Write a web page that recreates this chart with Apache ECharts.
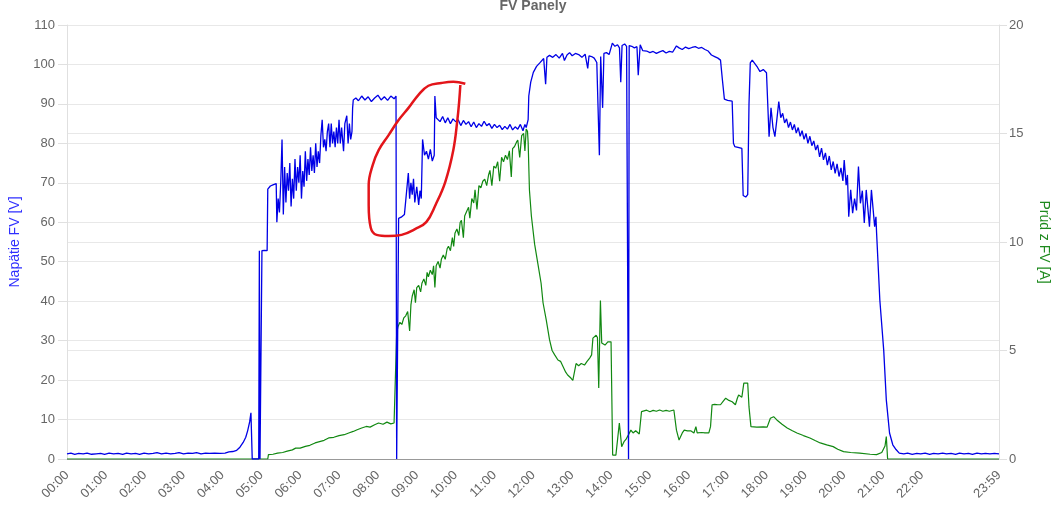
<!DOCTYPE html>
<html><head><meta charset="utf-8">
<script src="https://cdn.jsdelivr.net/npm/echarts@6/dist/echarts.min.js"></script>
<style>html,body{margin:0;padding:0;background:#fff;}#c{width:1059px;height:516px;}</style>
</head><body><div id="c"></div>
<script>
// x values are minutes after midnight
const tickMinutes = [0,60,120,180,240,300,360,420,480,540,600,660,720,780,840,900,960,1020,1080,1140,1200,1260,1320,1439];

const voltage = [
[0,1.3],[6,1.5],[12,1.2],[18,1.4],[25,1.3],[31,1.5],[38,1.2],[45,1.3],[52,1.4],[58,1.2],[65,1.5],[72,1.3],[79,1.4],[86,1.2],[92,1.5],[99,1.3],[106,1.4],[112,1.2],[119,1.5],[126,1.3],[133,1.4],[139,1.6],[146,1.3],[153,1.5],[160,1.3],[167,1.4],[173,1.6],[180,1.3],[187,1.5],[194,1.4],[200,1.6],[207,1.3],[214,1.5],[220,1.4],[228,1.5],[236,1.4],[244,1.5],[250,1.8],[256,1.9],[262,2.2],[267,3.0],[272,4.2],[276,5.5],[279,7.2],[282,9.4],[284,11.7],[286,0],
[296,0],[297,52.8],[298,0],[300,0],[301,52.8],[305,52.9],[309,52.8],[310,68.4],[314,69.2],[318,69.5],[323,69.8],
[324,60],[326,66],[328,62.5],[330,70],[332,81],[334,62],[336,74],[338,65],[340,72.5],[342,68],[344,75],[346,64],[348,71],[350,66],[352,76],[354,68],[356,74],[358,70],[360,77],[362,66],[364,73],[366,69],[368,78],[370,70.5],[372,76],[374,72],[376,79],[378,73],[380,77],[382,72.5],[384,80],[386,74],[388,78],[390,75],[392,82],[394,86],[396,79],[398,81],[400,78],[402,83],[404,85],[406,79],[408,85],[410,80],[412,83],[414,79],[416,84],[418,80],[420,86],[422,80],[424,84],[427,78],[429,85],[432,87],[434,80],[436,85],[438,81],[440,83],
[441,89],[442,91],[446,91.5],[450,90.8],[455,92],[460,91],[465,91.8],[470,90.6],[475,91.5],[480,92.2],[485,91],[490,91.8],[495,90.9],[500,92],[505,91.3],[508,92],
[509,0],[511,0],[512,61],[516,61.3],[521,62],[524,62.2],[527,72.5],[529,66],[531,70],[533,67],[535,71],[537,65],[540,69],[543,64.4],[545,68],[547,66],
[549,81],[552,77],[555,78],[558,76],[561,78.5],[564,75.5],[567,77],[568,92],[570,86.5],
[573,87],[576,85.5],[580,86.8],[584,85.2],[588,86.5],[592,85],[596,86.2],[600,85.5],[604,86],[608,84.5],[612,85.8],[616,84.8],[620,85.5],[624,84.2],[628,85.4],[632,84],[636,85],[640,84.3],[644,85.6],[648,84.5],[652,85],[656,83.8],[660,84.8],[664,84],[668,84.6],[672,83.5],[676,84.3],[680,83.6],[684,84.8],[688,83.4],[692,84.2],[696,83.6],[700,84.8],[704,83.2],[707,84.8],[709,84],
[712,86],[713,92],[716,95.5],[720,98],[725,99.5],[730,100.4],[736,101.5],[739,95],[741,101.8],[745,102.3],[750,101.8],[755,102.5],[760,101.6],[765,102.8],[768,101],[772,102.4],[776,103],[780,102.2],[785,102.8],[790,102.5],[795,101.8],[800,102.6],[804,99],[806,102.2],[810,102],[814,101.6],[818,100.5],[822,77],[824,102],[826,102.4],[827,89],[829,102.8],[833,103],[837,102.5],[840,103],[842,105.4],[846,104.6],[850,105],[853,104.2],[855,95.5],[857,104.8],[861,105.2],[864,104.6],[866,105],[867,0],[868,104.8],[872,104.6],[876,104.2],[880,104.5],[882,97.3],[885,105],[889,103.5],
[895,103.4],[900,103],[905,103.3],[910,102.8],[915,103.2],[920,103.5],[925,102.9],[930,103.3],[935,103.1],[941,104.7],[945,104.2],[950,103.8],[955,104.4],[960,104],[965,104.3],[970,104.5],[975,104.1],[980,104.3],[985,103.8],[990,103.4],[995,102.4],[1000,102],[1005,101.6],[1009,101.1],[1012,96],[1015,91.2],[1020,90.9],[1027,90.7],[1029,80],[1031,79.2],[1036,79],[1042,78.7],[1044,66.8],[1048,66.4],[1051,67],[1053,90],[1055,100.4],[1058,101.1],[1062,100.2],[1066,99.3],[1070,98.2],[1075,98.7],[1080,97.9],[1082,97.5],
[1084,81.7],[1087,89],[1090,84],[1093,81.7],[1096,86],[1099,90.6],[1102,86.5],[1105,87.6],[1108,85.2],[1111,86.2],[1114,84],[1117,85.4],[1120,83.4],[1123,84.8],[1126,82.6],[1129,84],[1132,81.8],[1135,83.2],[1138,81],[1141,82.5],[1144,80],[1147,81.8],[1150,79.4],[1153,80.6],[1156,78.3],[1159,79.6],[1162,76.6],[1165,78.8],[1168,75.8],[1171,77.6],[1174,74.5],[1177,76.8],[1180,73.3],[1183,75.4],[1186,72.4],[1189,74.8],[1192,71.6],[1195,73.8],[1198,70.5],[1200,75.8],[1203,69.4],[1205,72],[1207,61.4],[1210,68.2],[1213,62.3],[1216,66],[1219,63],[1222,74.1],[1225,64.8],[1228,68],[1231,59.8],[1234,68.2],[1237,68],[1239,58.9],[1242,68.2],[1245,68],[1247,58.9],[1249,61.4],[1250,57.3],[1255,40.3],[1261,27.6],[1265,15],[1270,6.6],[1275,3.6],[1280,2.4],[1285,1.5],
[1292,1.3],[1298,1.5],[1305,1.2],[1312,1.4],[1318,1.3],[1325,1.5],[1332,1.2],[1338,1.4],[1345,1.3],[1352,1.5],[1358,1.3],[1365,1.4],[1372,1.2],[1378,1.5],[1385,1.3],[1392,1.4],[1398,1.2],[1405,1.5],[1412,1.3],[1418,1.4],[1425,1.3],[1432,1.4],[1439,1.3]
];

const current = [
[0,0],[310,0],[311,0.2],[318,0.22],[325,0.27],[333,0.3],[340,0.36],[348,0.42],[353,0.5],[360,0.5],[368,0.58],[375,0.63],[383,0.74],[390,0.8],[397,0.86],[404,0.97],[412,1.0],[420,1.08],[428,1.12],[435,1.2],[442,1.27],[448,1.35],[455,1.43],[462,1.5],[468,1.47],[475,1.58],[481,1.66],[488,1.6],[494,1.7],[500,1.62],[505,1.66],[508,1.7],
[509,5.8],[511,6.1],[514,6.3],[517,6.2],[520,6.5],[523,6.6],[526,6.8],[529,5.9],[531,7.1],[533,7.5],[536,7.8],[538,7.2],[540,7.9],[543,8.0],[546,7.7],[548,8.1],[551,8.3],[554,8.0],[556,8.6],[558,8.4],[561,8.7],[564,8.5],[566,8.9],[568,7.9],[570,8.9],[573,9.1],[576,8.8],[578,9.2],[581,9.4],[584,9.2],[587,9.7],[589,9.8],[592,9.6],[595,10.2],[597,9.8],[599,10.4],[602,10.6],[605,10.3],[607,10.9],[609,11],[612,10.2],[614,11.2],[617,11.4],[620,11.6],[622,11.1],[625,12.0],[628,11.8],[630,12.4],[633,11.5],[636,12.6],[639,12.5],[642,12.8],[645,12.9],[648,12.6],[651,13.1],[653,13.3],[656,12.6],[659,13.5],[662,13.4],[665,13.7],[668,12.8],[671,13.9],[674,13.7],[677,14.0],[680,13.8],[683,14.2],[686,13.0],[688,14.3],[691,14.4],[694,14.6],[696,14.7],[699,13.9],[702,14.9],[705,15.0],[707,14.2],[709,15.2],[711,15.1],
[712,14.6],[714,12.4],[717,11.2],[722,9.9],[727,9.0],[732,8.1],[735,7.2],[740,6.4],[745,5.5],[749,5.0],[753,4.8],[758,4.56],[762,4.5],[766,4.25],[770,4.0],[773,3.87],[776,3.9],[778,3.73],[781,3.62],[784,3.56],[786,4.4],[790,4.3],[794,4.4],[799,4.33],[803,4.5],[807,4.65],[810,4.8],[812,5.57],[815,5.6],[817,5.7],[819,5.6],[821,3.27],[823.6,7.3],[825.6,5.35],[828,5.4],[830.7,5.25],[835,5.4],[840,5.4],
[842.5,0.18],[847.5,0.18],[852.8,1.66],[856.4,0.57],[860,0.8],[863,0.9],[866.6,1.1],[870.6,1.33],[874,1.2],[878,1.3],[883.6,1.15],[887,2.18],[890,2.2],[895,2.25],[900,2.18],[905,2.24],[910,2.2],[915,2.26],[920,2.2],[925,2.24],[930,2.2],[937,2.26],[941,1.33],[945,0.87],[950,1.2],[953,1.33],[958,1.3],[963,1.3],[965,1.36],[968,1.2],[971,1.49],[973,1.2],[980,1.22],[985,1.2],[991,1.2],[993.6,1.49],[996,2.5],[1000,2.52],[1005,2.5],[1009,2.5],[1013,2.65],[1017,2.8],[1022,2.7],[1027,2.64],[1030,2.7],[1032,2.5],[1035,2.8],[1037,2.95],[1040,2.9],[1042,2.85],[1045,3.5],[1048,3.5],[1051,3.5],[1053,2.4],[1056,1.49],[1065,1.47],[1075,1.48],[1081,1.47],[1086,1.88],[1091,1.95],[1096,1.8],[1104,1.6],[1112,1.43],[1120,1.3],[1127,1.2],[1137,1.08],[1147,0.97],[1155,0.85],[1163,0.74],[1173,0.65],[1183,0.57],[1190,0.45],[1199,0.34],[1210,0.3],[1224,0.27],[1240,0.22],[1250,0.2],[1258,0.3],[1263,0.6],[1265,1.03],[1267,0],[1439,0]
];

// hand-drawn red loop on the picture, in chart coordinates (minutes, volts)
const redMark = [
[615,95.1],[596.5,95.6],[578,95.3],[558,94.6],[542.7,92.3],[527.3,89],[512,85.9],[496.6,82.1],[481.2,78.3],[472,74.5],[465.8,69.5],[465.8,64.4],[469,58.6],[478,56.8],[496.6,56.5],[516.6,56.8],[538,58.3],[555,60.1],[569,64.4],[584,70.2],[596.5,78.3],[602.7,85.9],[605.7,91],[607.3,94.8]
];

const pad = n => (n < 10 ? '0' : '') + n;
const fmt = v => pad(Math.floor(v / 60)) + ':' + pad(Math.round(v % 60));

const chart = echarts.init(document.getElementById('c'));
chart.setOption({
  animation: false,
  textStyle: { fontFamily: 'Liberation Sans, Arial, sans-serif' },
  title: { text: 'FV Panely', left: 528, textAlign: 'center', top: -6,
    textStyle: { fontSize: 14, fontWeight: 'bold', color: '#666' } },
  grid: { left: 67, right: 56, top: 25, bottom: 57, containLabel: false },
  xAxis: {
    type: 'value', min: 0, max: 1439,
    axisLine: { show: true, lineStyle: { color: '#999', width: 1 } },
    axisTick: { show: false },
    splitLine: { show: false },
    axisLabel: { customValues: tickMinutes, formatter: fmt, rotate: 45, color: '#666', fontSize: 13, margin: 14 }
  },
  yAxis: [
    { type: 'value', min: 0, max: 110, interval: 10, position: 'left',
      name: 'Napätie FV [V]', nameLocation: 'middle', nameGap: 39, nameRotate: 90,
      nameTextStyle: { color: '#2f2fff', fontSize: 14 },
      axisLine: { show: true, lineStyle: { color: '#e0e0e0' } },
      axisTick: { show: true, length: 9, lineStyle: { color: '#e0e0e0' } },
      axisLabel: { color: '#666', fontSize: 13, margin: 12 },
      splitLine: { show: true, lineStyle: { color: '#e8e8e8' } } },
    { type: 'value', min: 0, max: 20, interval: 5, position: 'right',
      name: 'Prúd z FV [A]', nameLocation: 'middle', nameGap: 38, nameRotate: -90,
      nameTextStyle: { color: '#1e8a1e', fontSize: 14 },
      axisLine: { show: true, lineStyle: { color: '#e0e0e0' } },
      axisTick: { show: true, length: 8, lineStyle: { color: '#e0e0e0' } },
      axisLabel: { color: '#666', fontSize: 13, margin: 10 },
      splitLine: { show: true, lineStyle: { color: '#e8e8e8' } } }
  ],
  series: [
    { name: 'Prúd z FV [A]', type: 'line', yAxisIndex: 1, data: current, showSymbol: false,
      lineStyle: { color: '#118811', width: 1.2 }, itemStyle: { color: '#118811' }, z: 2 },
    { name: 'Napätie FV [V]', type: 'line', yAxisIndex: 0, data: voltage, showSymbol: false,
      lineStyle: { color: '#0000e6', width: 1.3 }, itemStyle: { color: '#0000e6' }, z: 3 },
    { name: 'mark', type: 'line', yAxisIndex: 0, data: redMark, showSymbol: false, smooth: 0.4,
      lineStyle: { color: '#e3151a', width: 2.5 }, itemStyle: { color: '#e3151a' }, z: 4 }
  ]
});
</script>
</body></html>
